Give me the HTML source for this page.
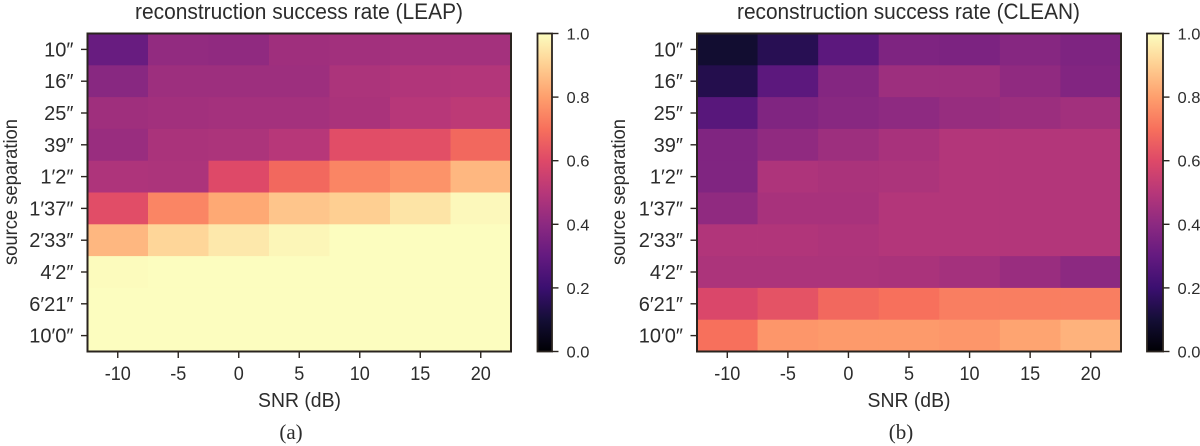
<!DOCTYPE html>
<html lang="en">
<head>
<meta charset="utf-8">
<title>Reconstruction success rate heatmaps</title>
<style>
html,body{margin:0;padding:0;background:#fff;}
svg{display:block;}
text{font-family:"Liberation Sans",sans-serif;fill:#2c2c2c;}
.cap{font-family:"Liberation Serif",serif;}
</style>
</head>
<body>
<svg id="fig" width="1200" height="446" viewBox="0 0 1200 446" xmlns="http://www.w3.org/2000/svg"></svg>
<script>
const snrLabels = ['-10','-5','0','5','10','15','20'];
const separationLabels = ['10\u2033','16\u2033','25\u2033','39\u2033','1\u20322\u2033','1\u203237\u2033','2\u203233\u2033','4\u20322\u2033','6\u203221\u2033','10\u20320\u2033'];
const colorbarTicks = ['0.0','0.2','0.4','0.6','0.8','1.0'];
const leapValues = [
  [0.31,0.415,0.41,0.445,0.45,0.455,0.455],
  [0.39,0.44,0.44,0.44,0.475,0.485,0.49],
  [0.445,0.45,0.455,0.455,0.47,0.50,0.515],
  [0.43,0.47,0.475,0.50,0.61,0.615,0.68],
  [0.48,0.475,0.60,0.68,0.745,0.775,0.85],
  [0.61,0.745,0.82,0.88,0.90,0.945,0.99],
  [0.85,0.915,0.955,0.985,1.00,1.00,1.00],
  [0.995,1.00,1.00,1.00,1.00,1.00,1.00],
  [1.00,1.00,1.00,1.00,1.00,1.00,1.00],
  [1.00,1.00,1.00,1.00,1.00,1.00,1.00]
];
const cleanValues = [
  [0.09,0.15,0.28,0.365,0.36,0.385,0.365],
  [0.14,0.28,0.38,0.44,0.44,0.41,0.375],
  [0.27,0.37,0.39,0.405,0.425,0.435,0.45],
  [0.37,0.41,0.44,0.465,0.49,0.49,0.49],
  [0.37,0.48,0.47,0.475,0.49,0.49,0.49],
  [0.41,0.465,0.465,0.49,0.49,0.49,0.49],
  [0.485,0.485,0.48,0.49,0.49,0.49,0.49],
  [0.475,0.475,0.475,0.47,0.455,0.43,0.40],
  [0.59,0.625,0.68,0.70,0.73,0.73,0.73],
  [0.70,0.78,0.79,0.79,0.78,0.81,0.84]
];
const magmaStops = ['#000004','#140e36','#3b0f70','#641a80','#8c2981','#b73779','#de4968','#f7705c','#fe9f6d','#fecf92','#fcfdbf'];

const svg = document.getElementById('fig');
const NS = 'http://www.w3.org/2000/svg';

function make(tag, attrs, parent) {
  const el = document.createElementNS(NS, tag);
  for (const k in attrs) el.setAttribute(k, attrs[k]);
  (parent || svg).appendChild(el);
  return el;
}
function fit(el, len) {
  el.setAttribute('textLength', len);
  el.setAttribute('lengthAdjust', 'spacingAndGlyphs');
}
function squeeze(el, factor) {
  fit(el, el.getComputedTextLength() * factor);
}
function hexToRgb(h) {
  return [parseInt(h.slice(1,3),16), parseInt(h.slice(3,5),16), parseInt(h.slice(5,7),16)];
}
function magma(v) {
  const t = Math.max(0, Math.min(1, v)) * (magmaStops.length - 1);
  const i = Math.min(Math.floor(t), magmaStops.length - 2);
  const f = t - i;
  const a = hexToRgb(magmaStops[i]);
  const b = hexToRgb(magmaStops[i + 1]);
  const c = a.map((x, n) => Math.round(x + (b[n] - x) * f));
  return 'rgb(' + c.join(',') + ')';
}

const TOP = 33.5, BOTTOM = 351.5;
const INK = '#2a241f';

function drawPanel(cfg) {
  const g = make('g', {});
  
  

  const cols = snrLabels.length;
  const rows = separationLabels.length;
  const colW = (cfg.right - cfg.left) / cols;
  const rowH = (BOTTOM - TOP) / rows;
  const xScale = i => cfg.left + i * colW;
  const yScale = j => TOP + j * rowH;
  const cbScale = v => BOTTOM - v * (BOTTOM - TOP);

  cfg.values.forEach((row, j) => {
    row.forEach((v, i) => {
      const cell = make('rect', {
        x: xScale(i), y: yScale(j),
        width: colW + 0.4, height: rowH + 0.4,
        fill: magma(v)
      }, g);
      
      
    });
  });

  const frame = make('rect', {
    x: cfg.left, y: TOP, width: cfg.right - cfg.left, height: BOTTOM - TOP,
    fill: 'none', stroke: INK, 'stroke-width': 2
  }, g);
  
  

  snrLabels.forEach((lab, i) => {
    const x = xScale(i + 0.5);
    const tick = make('line', { x1: x, x2: x, y1: BOTTOM, y2: BOTTOM + 6.5, stroke: INK, 'stroke-width': 1.4 }, g);
    
    
    const t = make('text', { x: x, y: 380, 'text-anchor': 'middle', 'font-size': 19 }, g);
    t.textContent = lab;
    
    
    squeeze(t, 0.95);
  });

  separationLabels.forEach((lab, j) => {
    const y = yScale(j + 0.5);
    const tick = make('line', { x1: cfg.left - 6.5, x2: cfg.left, y1: y, y2: y, stroke: INK, 'stroke-width': 1.4 }, g);
    
    
    const t = make('text', { x: cfg.left - 14, y: y + 7, 'text-anchor': 'end', 'font-size': 20 }, g);
    t.textContent = lab;
    
    
  });

  const title = make('text', { x: cfg.titleX, y: 19, 'font-size': 22 }, g);
  title.textContent = cfg.title;
  
  
  fit(title, cfg.titleW);

  const xTitle = make('text', { x: cfg.left + 212, y: 407, 'text-anchor': 'middle', 'font-size': 20 }, g);
  xTitle.textContent = 'SNR (dB)';
  
  
  fit(xTitle, 83);

  const yTitle = make('text', {
    x: 0, y: 0, 'text-anchor': 'middle', 'font-size': 19,
    transform: 'translate(' + cfg.yTitleX + ',192) rotate(-90)'
  }, g);
  yTitle.textContent = 'source separation';
  
  
  fit(yTitle, 146);

  const cap = make('text', { x: cfg.capX, y: 439, 'text-anchor': 'middle', 'font-size': 21, class: 'cap' }, g);
  cap.textContent = cfg.caption;
  
  

  const grad = make('linearGradient', { id: cfg.name + '-grad', x1: 0, x2: 0, y1: 1, y2: 0 }, g);
  magmaStops.forEach((c, i) => {
    make('stop', { offset: i / (magmaStops.length - 1), 'stop-color': c }, grad);
  });
  const bar = make('rect', {
    x: cfg.cbLeft, y: TOP, width: cfg.cbRight - cfg.cbLeft, height: BOTTOM - TOP,
    fill: 'url(#' + cfg.name + '-grad)', stroke: INK, 'stroke-width': 1.8
  }, g);
  
  

  colorbarTicks.forEach(lab => {
    const y = cbScale(parseFloat(lab));
    const tick = make('line', { x1: cfg.cbRight, x2: cfg.cbRight + 6.5, y1: y, y2: y, stroke: INK, 'stroke-width': 1.4 }, g);
    
    
    const t = make('text', { x: cfg.cbRight + 14.5, y: y + 6, 'font-size': 16 }, g);
    t.textContent = lab;
    
    
    fit(t, 23);
  });
}

drawPanel({
  name: 'leap', values: leapValues, title: 'reconstruction success rate (LEAP)',
  left: 87.5, right: 511, cbLeft: 537.5, cbRight: 552,
  titleX: 135, titleW: 328, yTitleX: 17, capX: 291, caption: '(a)'
});
drawPanel({
  name: 'clean', values: cleanValues, title: 'reconstruction success rate (CLEAN)',
  left: 697, right: 1121, cbLeft: 1147, cbRight: 1163,
  titleX: 737, titleW: 343, yTitleX: 625, capX: 901, caption: '(b)'
});
</script>
</body>
</html>
